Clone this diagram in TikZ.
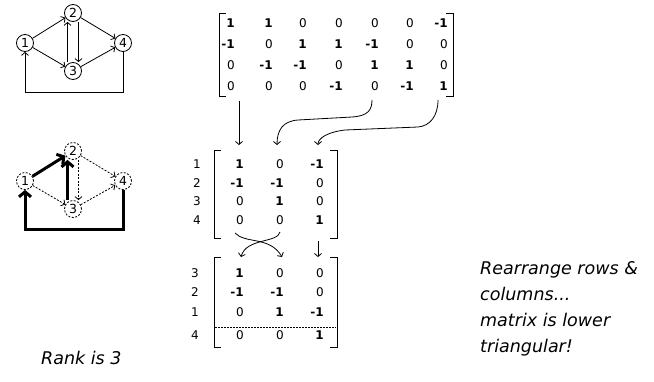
\documentclass[tikz,border=0pt]{standalone}
\usepackage{fontspec}
\setmainfont{DejaVu Sans}
\usetikzlibrary{arrows.meta}

% nonzero entries are set heavier than the zeros
\newcommand\mcell[1]{\ifnum#1=0 #1\else\textbf{#1}\fi}

\begin{document}
\begin{tikzpicture}[x=1pt,y=-1pt,
  vtx/.style={circle,draw,line width=0.8pt,minimum size=17pt,inner sep=0pt,
    font=\fontsize{12.5}{12.5}\selectfont},
  dvtx/.style={vtx,dash pattern=on 2pt off 1.5pt},
  edge/.style={line width=0.8pt,-{Straight Barb[length=3pt,width=7pt]}},
  dedge/.style={edge,dash pattern=on 2pt off 1.5pt},
  tree/.style={line width=3pt,-{Straight Barb[length=5pt,width=12pt]}},
  entry/.style={anchor=base east,inner sep=0pt,font=\fontsize{12}{12}\selectfont},
  rowlab/.style={anchor=base,inner sep=0pt,font=\fontsize{12}{12}\selectfont},
  brk/.style={line width=1pt},
  colarrow/.style={line width=0.8pt,-{Straight Barb[length=3pt,width=7pt]}},
  note/.style={anchor=base west,inner sep=0pt,font=\fontsize{17.5}{17.5}\selectfont\itshape}
]
\useasboundingbox (0,0) rectangle (654,381);

% ---------- directed graph ----------
\node[vtx] (n1) at (25,43) {1};
\node[vtx] (n2) at (73,13) {2};
\node[vtx] (n3) at (73,71) {3};
\node[vtx] (n4) at (123,43) {4};
\draw[edge] (n1) -- (n2);
\draw[edge] (n1) -- (n3);
\draw[edge] (n2) -- (n4);
\draw[edge] (n3) -- (n4);
\draw[edge] ([xshift=-5.5pt]n3.north) -- ([xshift=-5.5pt]n2.south);
\draw[edge] ([xshift=5.5pt]n2.south) -- ([xshift=5.5pt]n3.north);
\draw[edge] (n4.south) -- ++(0,40) -| (n1.south);

% ---------- same graph with a spanning tree ----------
\node[dvtx] (m1) at (25,181) {1};
\node[dvtx] (m2) at (73,151) {2};
\node[dvtx] (m3) at (73,209) {3};
\node[dvtx] (m4) at (123,181) {4};
\draw[dedge] (m1) -- (m3);
\draw[dedge] (m2) -- (m4);
\draw[dedge] (m3) -- (m4);
\draw[dedge] ([xshift=5.5pt]m2.south) -- ([xshift=5.5pt]m3.north);
\draw[tree] (m1) -- (m2);
\draw[tree] ([xshift=-5.5pt]m3.north) -- ([xshift=-5.5pt]m2.south);
\draw[tree] (m4.south) -- ++(0,40) -| (m1.south);

% ---------- incidence matrix ----------
\foreach \row [count=\r] in {{1,1,0,0,0,0,-1},{-1,0,1,1,-1,0,0},{0,-1,-1,0,1,1,0},{0,0,0,-1,0,-1,1}} {
  \foreach \v [count=\c] in \row {
    \pgfmathsetmacro\xx{{235,273,307,343,379,414,448}[\c-1]}
    \pgfmathsetmacro\yy{{27,48,69,90}[\r-1]}
    \node[entry] (a-\r-\c) at (\xx,\yy) {\mcell{\v}};
  }
}
\draw[brk] (226,13) -- (219,13) -- (219,96) -- (226,96);
\draw[brk] (446,13) -- (453,13) -- (453,96) -- (446,96);

% ---------- columns of the spanning tree ----------
\foreach \row/\lab [count=\r] in {{1,0,-1}/1,{-1,-1,0}/2,{0,1,0}/3,{0,0,1}/4} {
  \pgfmathsetmacro\yy{{168,187,205,224}[\r-1]}
  \node[rowlab] (bl-\r) at (197,\yy) {\lab};
  \foreach \v [count=\c] in \row {
    \pgfmathsetmacro\xx{{244,284,324}[\c-1]}
    \node[entry] (b-\r-\c) at (\xx,\yy) {\mcell{\v}};
  }
}
\draw[brk] (221,150) -- (214,150) -- (214,238) -- (221,238);
\draw[brk] (330,150) -- (337,150) -- (337,238) -- (330,238);

% ---------- rows and columns rearranged ----------
\foreach \row/\lab [count=\r] in {{1,0,0}/3,{-1,-1,0}/2,{0,1,-1}/1,{0,0,1}/4} {
  \pgfmathsetmacro\yy{{277,296,316,339}[\r-1]}
  \node[rowlab] (cl-\r) at (195,\yy) {\lab};
  \foreach \v [count=\c] in \row {
    \pgfmathsetmacro\xx{{244,284,324}[\c-1]}
    \node[entry] (c-\r-\c) at (\xx,\yy) {\mcell{\v}};
  }
}
\draw[brk] (221,257) -- (214,257) -- (214,347) -- (221,347);
\draw[brk] (330,257) -- (337,257) -- (337,347) -- (330,347);
\draw[line width=0.8pt,dash pattern=on 1.5pt off 1.5pt] (215,327) -- (336,327);

% ---------- column selection arrows ----------
\coordinate (s1) at (239,101);
\coordinate (s5) at (372,100);
\coordinate (s7) at (438,100);
\coordinate (e1) at (239,145);
\coordinate (e2) at (277,145);
\coordinate (e3) at (318,145);
\draw[colarrow] (s1) -- (e1);
\draw[colarrow] (s5) .. controls (372,110) and (368,116) .. (352,117)
  -- (298,120) .. controls (283,121) and (277,130) .. (e2);
\draw[colarrow] (s7) .. controls (438,116) and (430,126) .. (418,127)
  -- (345,130) .. controls (328,132) and (318,138) .. (e3);

% ---------- column swap arrows ----------
\coordinate (u1) at (235,233);
\coordinate (u2) at (280,232);
\coordinate (u3) at (318,241);
\coordinate (v1) at (241,257);
\coordinate (v2) at (282,257);
\coordinate (v3) at (318,257);
\draw[colarrow] (u1) .. controls (245,244) and (270,236) .. (v2);
\draw[colarrow] (u2) .. controls (278,243) and (246,238) .. (v1);
\draw[colarrow] (u3) -- (v3);

% ---------- notes ----------
\node[note] (rank) at (41,364) {Rank is 3};
\node[note] (t1) at (480,274) {Rearrange rows \&};
\node[note] (t2) at (480,300) {columns...};
\node[note] (t3) at (480,326) {matrix is lower};
\node[note] (t4) at (480,352) {triangular!};
\end{tikzpicture}
\end{document}
